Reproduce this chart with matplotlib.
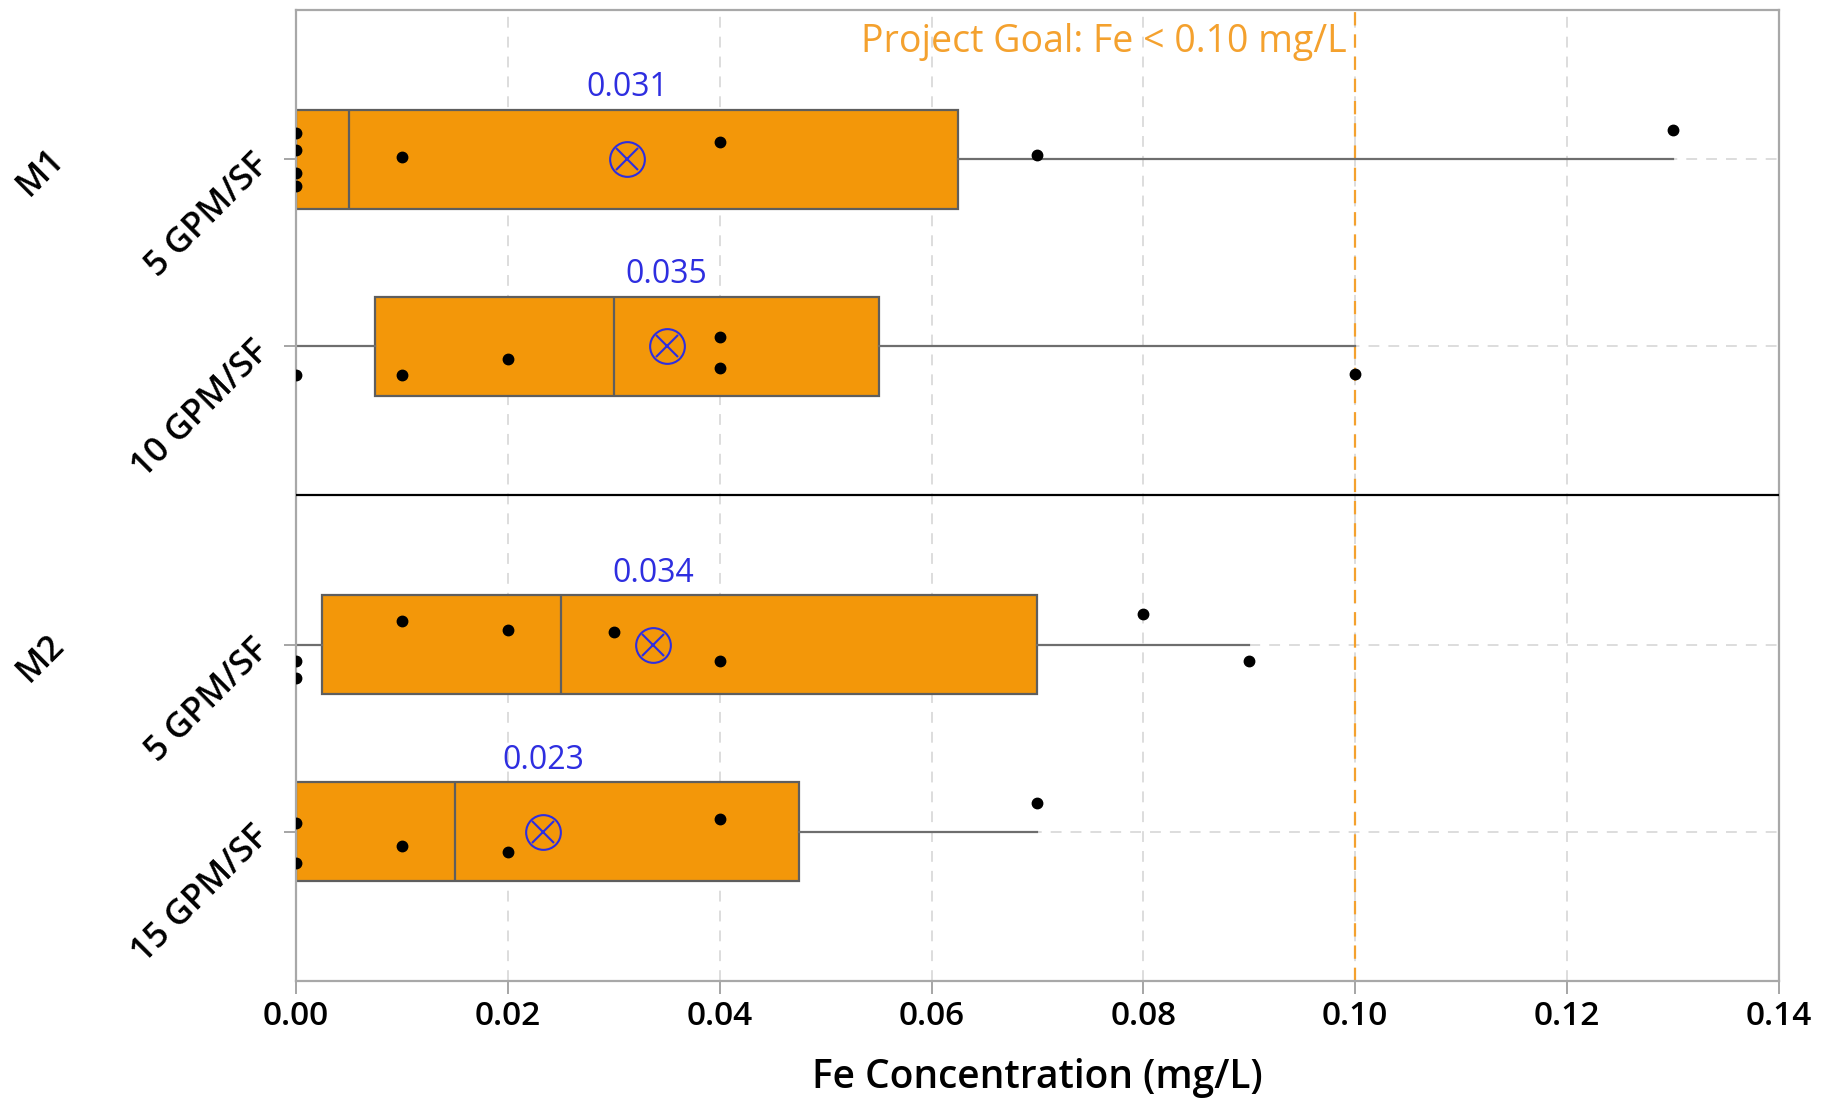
import matplotlib
matplotlib.use('Agg')
import matplotlib.pyplot as plt
import matplotlib.transforms as mtransforms
import numpy as np

plt.rcParams['font.family'] = ['Open Sans', 'DejaVu Sans']

# data
groups = ['M1', 'M2']
rates = [['5 GPM/SF', '10 GPM/SF'], ['5 GPM/SF', '15 GPM/SF']]
fe_m1_5 = [0.0, 0.0, 0.0, 0.0, 0.01, 0.04, 0.07, 0.13]
fe_m1_10 = [0.0, 0.01, 0.02, 0.04, 0.04, 0.10]
fe_m2_5 = [0.0, 0.0, 0.01, 0.02, 0.03, 0.04, 0.08, 0.09]
fe_m2_15 = [0.0, 0.0, 0.01, 0.02, 0.04, 0.07]
# vertical jitter of the individual points (box-height units)
jit_m1_5 = [-0.142, -0.048, 0.071, 0.142, -0.011, -0.094, -0.023, -0.155]
jit_m1_10 = [0.153, 0.153, 0.07, -0.048, 0.117, 0.15]
jit_m2_5 = [0.084, 0.178, -0.13, -0.082, -0.071, 0.084, -0.165, 0.084]
jit_m2_15 = [-0.044, 0.169, 0.075, 0.11, -0.068, -0.151]
goal = 0.10

series = [fe_m1_5, fe_m1_10, fe_m2_5, fe_m2_15]
jitters = [jit_m1_5, jit_m1_10, jit_m2_5, jit_m2_15]

box_col = '#F39709'
mean_col = '#2E2EE0'
goal_col = '#F4A12E'

fig = plt.figure(figsize=(18.36, 11.02), dpi=100)
ax = fig.add_axes([0.1612, 0.1098, 0.8077, 0.8812])

# positions: two boxes per group, group span 2.6
pos = []
for g in range(len(groups)):
    for j in range(len(rates[g])):
        pos.append(g * 2.6 + 1 + j)

stats = []
for vals in series:
    v = np.array(vals)
    q1, med, q3 = np.percentile(v, [25, 50, 75], method='weibull')
    iqr = q3 - q1
    lo = v[v >= q1 - 1.5 * iqr].min()
    hi = v[v <= q3 + 1.5 * iqr].max()
    stats.append(dict(med=med, q1=q1, q3=q3, whislo=lo, whishi=hi,
                      mean=v.mean(), fliers=[]))

ax.bxp(stats, positions=pos, vert=False, widths=0.53, patch_artist=True,
       showcaps=False, showfliers=False, showmeans=False,
       boxprops=dict(facecolor=box_col, edgecolor='#5E5E5E', linewidth=1.6),
       medianprops=dict(color='#5E5E5E', linewidth=1.6),
       whiskerprops=dict(color='#6E6E6E', linewidth=1.6), zorder=2)

for p, vals, jit, st in zip(pos, series, jitters, stats):
    ax.plot(vals, np.array(jit) + p, 'o', color='black', markersize=7.5,
            zorder=4)
    ax.plot(st['mean'], p, 'o', mfc='none', mec=mean_col, markersize=25,
            mew=1.5, zorder=5)
    ax.plot(st['mean'], p, 'x', color=mean_col, markersize=16, mew=1.5,
            zorder=5)
    ax.text(st['mean'], p - 0.265 - 0.03, '%.3f' % st['mean'],
            color=mean_col, fontsize=23, ha='center', va='bottom')

# goal line
ax.axvline(goal, color=goal_col, linestyle=(0, (6, 4)), linewidth=1.6,
           zorder=1.5)
ax.text(goal - 0.0008, 0.37, 'Project Goal: Fe < %.2f mg/L' % goal,
        color=goal_col, fontsize=27, ha='right', va='center')

# group separator
ax.axhline(2.8, color='black', linewidth=1.6, zorder=3)

ax.set_xlim(0, 0.14)
ax.set_ylim(5.4, 0.2)
ax.set_xticks(np.arange(0, 0.141, 0.02))
ax.set_xticklabels(['%.2f' % t for t in np.arange(0, 0.141, 0.02)],
                   fontsize=24, fontweight='semibold')
ax.set_yticks(pos)
ax.set_yticklabels([r for grp in rates for r in grp], rotation=45,
                   ha='right', va='center', rotation_mode='anchor',
                   fontsize=25, fontweight='semibold')
ax.tick_params(axis='both', length=9, width=1.3, color='#9E9E9E')
ax.tick_params(axis='x', pad=5)
ax.tick_params(axis='y', pad=14)
ax.set_xlabel('Fe Concentration (mg/L)', fontsize=28,
              fontweight='semibold', labelpad=18)

ax.grid(True, linestyle=(0, (6, 5)), color='#DADADA', linewidth=1.3)
ax.set_axisbelow(True)
for s in ax.spines.values():
    s.set_color('#A8A8A8')
    s.set_linewidth(1.6)

# group labels
trans = mtransforms.blended_transform_factory(ax.transAxes, ax.transData)
for g, name in enumerate(groups):
    ax.text(-0.172, g * 2.6 + 1.07, name, transform=trans, rotation=45,
            ha='center', va='center', fontsize=25, fontweight='semibold')

fig.savefig('out.png', dpi=100)
